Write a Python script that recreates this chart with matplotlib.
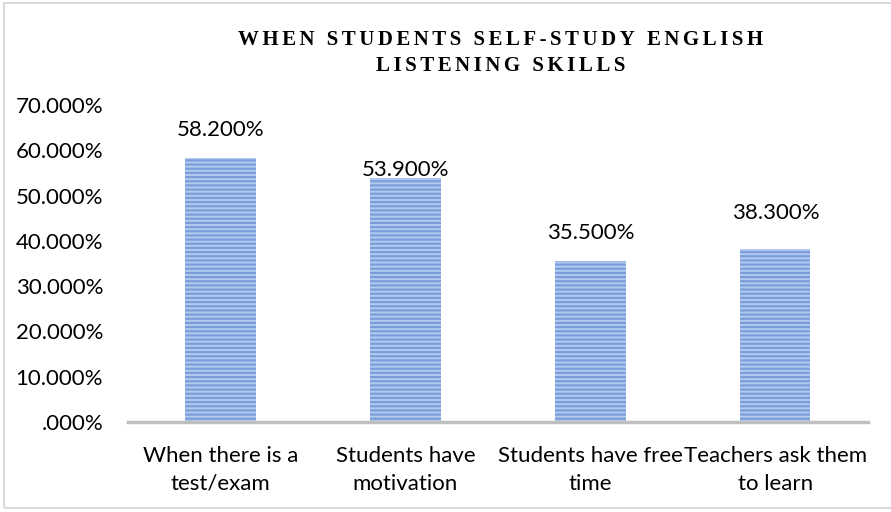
import matplotlib
matplotlib.use("Agg")
import matplotlib.pyplot as plt
from matplotlib.patches import Rectangle
from matplotlib.ticker import FuncFormatter

categories = ["When there is a\ntest/exam", "Students have\nmotivation",
              "Students have free\ntime", "Teachers ask them\nto learn"]
values = [58.2, 53.9, 35.5, 38.3]
label_offsets = [18, -2, 18, 26]  # px above bar top, as placed in the original
yticks = [0, 10, 20, 30, 40, 50, 60, 70]
title = "WHEN STUDENTS SELF-STUDY ENGLISH\nLISTENING SKILLS"


def pct(v, _pos=None):
    s = "%.3f%%" % v
    return s[1:] if s.startswith("0.") else s


def spaced(text):
    return "\n".join("\u2006".join(line) for line in text.split("\n"))


plt.rcParams["font.family"] = ["Lato", "DejaVu Sans"]
plt.rcParams["hatch.linewidth"] = 1.6

fig = plt.figure(figsize=(8.91, 5.12), dpi=100)
fig.patches.append(Rectangle((0.004, 0.008), 1.2, 0.986, transform=fig.transFigure,
                             fill=False, edgecolor="#d9d9d9", linewidth=1.5))
ax = fig.add_axes([0.1437, 0.1758, 0.8303, 0.6192])

x = range(len(categories))
bars = ax.bar(x, values, width=0.38, color="#b2caf0", edgecolor="#7b9edb",
              hatch="----", linewidth=0, zorder=2)
for b, v, off in zip(bars, values, label_offsets):
    ax.annotate(pct(v), (b.get_x() + b.get_width() / 2, v), xytext=(0, off),
                textcoords="offset pixels", ha="center", va="bottom", fontsize=16,
                color="#000000")

ax.set_xlim(-0.5, len(categories) - 0.5)
ax.set_ylim(0, 70)
ax.set_yticks(yticks)
ax.yaxis.set_major_formatter(FuncFormatter(pct))
ax.set_xticks(list(x))
ax.set_xticklabels(categories, fontsize=16, linespacing=1.5)
ax.tick_params(axis="both", length=0, labelsize=16, colors="#000000")
ax.tick_params(axis="y", pad=18)
ax.tick_params(axis="x", pad=17)
for s in ["top", "right", "left"]:
    ax.spines[s].set_visible(False)
ax.spines["bottom"].set_color("#bfbfbf")
ax.spines["bottom"].set_linewidth(2.5)
ax.spines["bottom"].set_zorder(3)

fig.text(0.562, 0.897, spaced(title), ha="center", va="center", fontsize=15,
         fontweight="bold", family=["Liberation Serif", "DejaVu Serif"],
         linespacing=1.4)

fig.savefig("out.png", dpi=100, facecolor="white")
